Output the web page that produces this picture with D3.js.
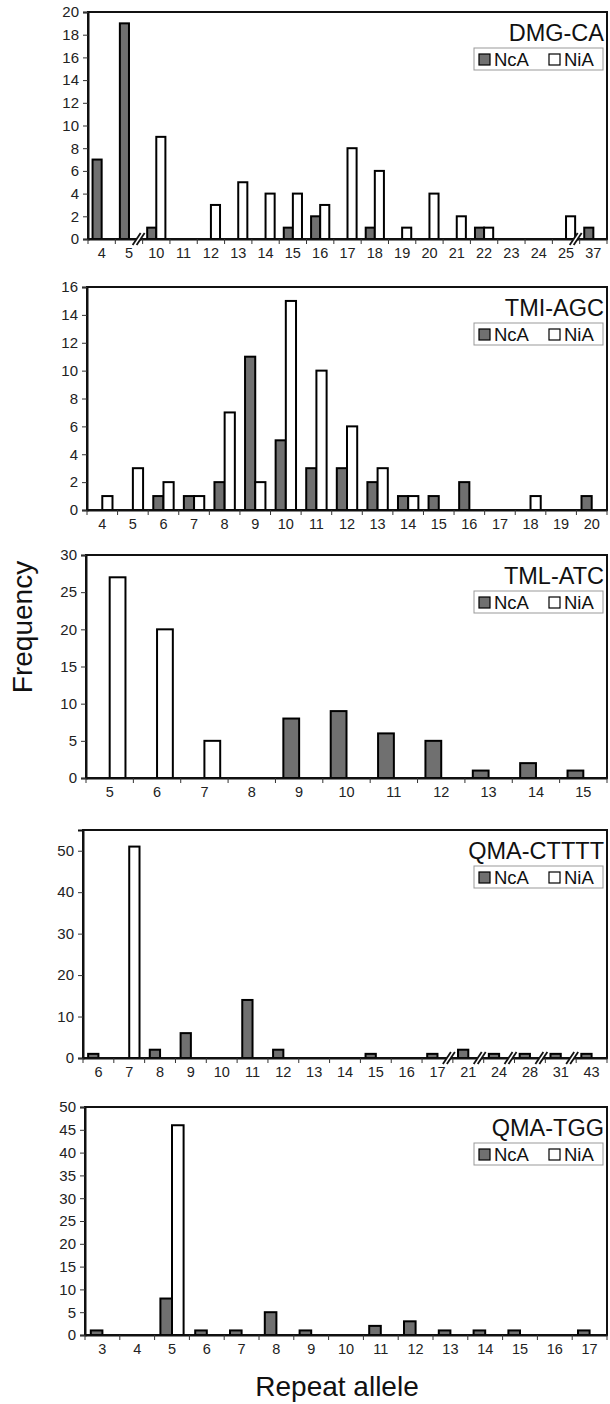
<!DOCTYPE html>
<html>
<head>
<meta charset="utf-8">
<script src="https://cdn.jsdelivr.net/npm/d3@7"></script>
<style>
  body { margin: 0; background: #fff; }
  svg { display: block; font-family: "Liberation Sans", Arial, sans-serif; }
</style>
</head>
<body>
<div id="chart"></div>
<script>
// ---- data ----
const seriesNames = ["NcA", "NiA"];

const dmgCategories = ["4", "5", "10", "11", "12", "13", "14", "15", "16", "17", "18", "19", "20", "21", "22", "23", "24", "25", "37"];
const dmgNcA = [7, 19, 1, 0, 0, 0, 0, 1, 2, 0, 1, 0, 0, 0, 1, 0, 0, 0, 1];
const dmgNiA = [0, 0, 9, 0, 3, 5, 4, 4, 3, 8, 6, 1, 4, 2, 1, 0, 0, 2, 0];

const tmiCategories = ["4", "5", "6", "7", "8", "9", "10", "11", "12", "13", "14", "15", "16", "17", "18", "19", "20"];
const tmiNcA = [0, 0, 1, 1, 2, 11, 5, 3, 3, 2, 1, 1, 2, 0, 0, 0, 1];
const tmiNiA = [1, 3, 2, 1, 7, 2, 15, 10, 6, 3, 1, 0, 0, 0, 1, 0, 0];

const tmlCategories = ["5", "6", "7", "8", "9", "10", "11", "12", "13", "14", "15"];
const tmlNcA = [0, 0, 0, 0, 8, 9, 6, 5, 1, 2, 1];
const tmlNiA = [27, 20, 5, 0, 0, 0, 0, 0, 0, 0, 0];

const ctCategories = ["6", "7", "8", "9", "10", "11", "12", "13", "14", "15", "16", "17", "21", "24", "28", "31", "43"];
const ctNcA = [1, 0, 2, 6, 0, 14, 2, 0, 0, 1, 0, 1, 2, 1, 1, 1, 1];
const ctNiA = [0, 51, 0, 0, 0, 0, 0, 0, 0, 0, 0, 0, 0, 0, 0, 0, 0];

const tggCategories = ["3", "4", "5", "6", "7", "8", "9", "10", "11", "12", "13", "14", "15", "16", "17"];
const tggNcA = [1, 0, 8, 1, 1, 5, 1, 0, 2, 3, 1, 1, 1, 0, 1];
const tggNiA = [0, 0, 46, 0, 0, 0, 0, 0, 0, 0, 0, 0, 0, 0, 0];

const panelTitles = ["DMG-CA", "TMI-AGC", "TML-ATC", "QMA-CTTTT", "QMA-TGG"];
const yMaxes = [20, 16, 30, 55, 50];
const yTickSteps = [2, 2, 5, 10, 5];

// ---- layout ----
const W = 610, H = 1404;
const right = 607;
const frames = [
  { top: 12, bottom: 239, left: 88 },
  { top: 287, bottom: 510, left: 87 },
  { top: 555, bottom: 778, left: 86 },
  { top: 830, bottom: 1058, left: 83 },
  { top: 1107, bottom: 1335, left: 85 }
];
const colors = { NcA: "#707070", NiA: "#ffffff" };

const panels = [
  { cats: dmgCategories, vals: [dmgNcA, dmgNiA] },
  { cats: tmiCategories, vals: [tmiNcA, tmiNiA] },
  { cats: tmlCategories, vals: [tmlNcA, tmlNiA] },
  { cats: ctCategories, vals: [ctNcA, ctNiA] },
  { cats: tggCategories, vals: [tggNcA, tggNiA] }
].map((p, i) => ({ ...p, title: panelTitles[i], yMax: yMaxes[i], step: yTickSteps[i], frame: frames[i] }));

const svg = d3.select("#chart").append("svg")
  .attr("width", W)
  .attr("height", H);

panels.forEach(p => {
  const f = p.frame;
  const g = svg.append("g");

  const x = d3.scaleBand().domain(p.cats).range([f.left, right]).padding(0);
  const x1 = d3.scaleBand().domain(seriesNames).range([0, x.bandwidth()])
    .paddingInner(0).paddingOuter(0.5);
  const y = d3.scaleLinear().domain([0, p.yMax]).range([f.bottom, f.top]);

  // frame
  g.append("rect")
    .attr("x", f.left).attr("y", f.top)
    .attr("width", right - f.left).attr("height", f.bottom - f.top)
    .attr("fill", "none")
    .attr("stroke", "#111")
    .attr("stroke-width", 2);

  // bars
  const rows = [];
  p.cats.forEach((c, i) => {
    seriesNames.forEach((s, k) => {
      rows.push({ cat: c, series: s, value: p.vals[k][i] });
    });
  });

  g.selectAll(".bar")
    .data(rows.filter(d => d.value > 0))
    .join("rect")
    .attr("class", "bar")
    .attr("x", d => x(d.cat) + x1(d.series))
    .attr("y", d => y(d.value))
    .attr("width", x1.bandwidth())
    .attr("height", d => y(0) - y(d.value))
    .attr("fill", d => colors[d.series])
    .attr("stroke", "#000")
    .attr("stroke-width", 2);

  // y axis
  const yAxis = g.append("g")
    .attr("transform", `translate(${f.left},0)`)
    .call(d3.axisLeft(y)
      .tickValues(d3.range(0, p.yMax + 0.001, p.step))
      .tickSize(5)
      .tickPadding(4));
  yAxis.select(".domain").attr("stroke", "#111").attr("stroke-width", 2);
  yAxis.selectAll(".tick line").attr("stroke", "#333");
  yAxis.selectAll("text").style("font-size", "15px").attr("fill", "#222");

  // x axis: labels at category centres, ticks at boundaries
  const xAxis = g.append("g")
    .attr("transform", `translate(0,${f.bottom})`)
    .call(d3.axisBottom(x).tickSize(0).tickPadding(9));
  xAxis.select(".domain").attr("stroke", "#111").attr("stroke-width", 2);
  xAxis.selectAll("text").style("font-size", "14.5px").attr("fill", "#222");

  const bounds = p.cats.map(c => x(c)).concat([right]);
  g.selectAll(".xtick")
    .data(bounds)
    .join("line")
    .attr("class", "xtick")
    .attr("x1", d => d).attr("x2", d => d)
    .attr("y1", f.bottom).attr("y2", f.bottom + 5)
    .attr("stroke", "#333");

  // axis breaks where allele numbers jump
  const breaks = [];
  for (let i = 0; i < p.cats.length - 1; i++) {
    if (+p.cats[i + 1] - +p.cats[i] > 1) breaks.push(x(p.cats[i + 1]));
  }
  breaks.forEach(bx => {
    const bg = g.append("g").attr("transform", `translate(${bx - 3},${f.bottom})`);
    bg.append("path")
      .attr("d", "M-7,6 L1,-6 L5,-6 L-3,6 Z")
      .attr("fill", "#fff");
    bg.append("line").attr("x1", -7).attr("y1", 6).attr("x2", 1).attr("y2", -6)
      .attr("stroke", "#111").attr("stroke-width", 1.8);
    bg.append("line").attr("x1", -3).attr("y1", 6).attr("x2", 5).attr("y2", -6)
      .attr("stroke", "#111").attr("stroke-width", 1.8);
  });

  // title
  g.append("text")
    .attr("x", 604)
    .attr("y", f.top + 29)
    .attr("text-anchor", "end")
    .style("font-size", "23.5px")
    .attr("fill", "#111")
    .text(p.title);

  // legend
  const lg = g.append("g").attr("transform", `translate(474,${f.top + 36})`);
  lg.append("rect")
    .attr("width", 129).attr("height", 22)
    .attr("fill", "#fff")
    .attr("stroke", "#999");
  const items = [
    { name: "NcA", sx: 5, tx: 20 },
    { name: "NiA", sx: 75, tx: 90 }
  ];
  items.forEach(it => {
    lg.append("rect")
      .attr("x", it.sx).attr("y", 6)
      .attr("width", 11).attr("height", 11)
      .attr("fill", colors[it.name])
      .attr("stroke", "#000")
      .attr("stroke-width", 1.2);
    lg.append("text")
      .attr("x", it.tx).attr("y", 18)
      .style("font-size", "18.5px")
      .attr("fill", "#111")
      .text(it.name);
  });
});

// shared axis titles
svg.append("text")
  .attr("transform", "translate(32,627) rotate(-90)")
  .attr("text-anchor", "middle")
  .style("font-size", "28px")
  .attr("fill", "#111")
  .text("Frequency");

svg.append("text")
  .attr("x", 337)
  .attr("y", 1396)
  .attr("text-anchor", "middle")
  .style("font-size", "28px")
  .attr("fill", "#111")
  .text("Repeat allele");
</script>
</body>
</html>
